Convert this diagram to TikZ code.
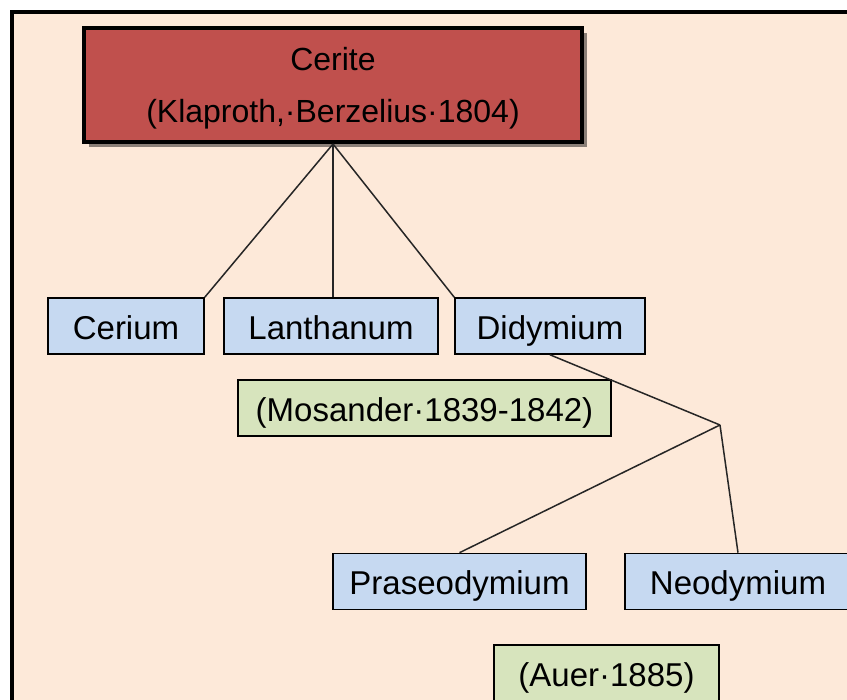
\documentclass[tikz,border=0pt]{standalone}
\usepackage{fontspec}
\setmainfont{Liberation Sans}
\usetikzlibrary{shadows}
\definecolor{peach}{HTML}{FDE9D9}
\definecolor{ceritered}{HTML}{C0504D}
\definecolor{elementblue}{HTML}{C6D9F1}
\definecolor{chemistgreen}{HTML}{D7E4BD}
\newcommand{\boxfont}{\fontsize{33}{52}\selectfont}
\newcommand{\titlefont}{\fontsize{32}{52}\selectfont}
\tikzstyle{mineral}=[draw=black,line width=4pt,fill=ceritered,align=center,font=\titlefont,text depth=0pt,minimum width=498pt,minimum height=114pt,inner sep=0pt,drop shadow={shadow xshift=5pt,shadow yshift=-5pt,fill=black,opacity=0.45}]
\tikzstyle{element}=[draw=black,line width=1.6pt,fill=elementblue,font=\boxfont,text height=30pt,text depth=3pt,minimum height=56pt,inner sep=0pt]
\tikzstyle{discoverer}=[draw=black,line width=1.6pt,fill=chemistgreen,font=\boxfont,text height=30pt,text depth=3pt,minimum height=56pt,inner sep=0pt]
\tikzstyle{branch}=[line width=1.5pt,black!85]
\begin{document}
\begin{tikzpicture}[x=1pt,y=-1pt]
	\useasboundingbox (0,0) rectangle (847,700);
	\clip (0,0) rectangle (847,700);
	\fill[white] (0,0) rectangle (847,700);
	\draw[line width=4pt,fill=peach] (12,12) rectangle (900,760); % frame
	% mineral
	\node[mineral] (cerite) at (333,85) {Cerite\\(Klaproth,·Berzelius·1804)};
	% first split
	\node[element,minimum width=156pt] (cerium) at (126,326) {Cerium};
	\node[element,minimum width=214pt] (lanthanum) at (331,326) {Lanthanum};
	\node[element,minimum width=190pt] (didymium) at (550,326) {Didymium};
	\node[discoverer,minimum width=373pt] (mosander) at (424.5,408) {(Mosander·1839-1842)};
	% second split
	\node[element,minimum width=253pt] (praseodymium) at (459.5,581.5) {Praseodymium};
	\node[element,minimum width=226pt] (neodymium) at (738,581.5) {Neodymium};
	\node[discoverer,minimum width=225pt] (auer) at (606.5,673) {(Auer·1885)};
	\coordinate (fork) at (720,425);
	\draw[branch] (cerite.south) -- (cerium.north east);
	\draw[branch] (cerite.south) -- (cerite.south |- lanthanum.north);
	\draw[branch] (cerite.south) -- (didymium.north west);
	\draw[branch] (didymium.south) -- (fork);
	\draw[branch] (fork) -- (praseodymium.north);
	\draw[branch] (fork) -- (neodymium.north);
\end{tikzpicture}
\end{document}
